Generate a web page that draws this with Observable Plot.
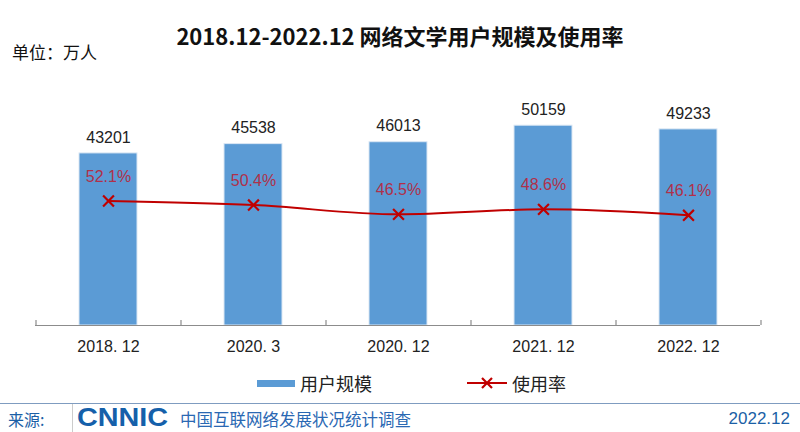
<!DOCTYPE html>
<html>
<head>
<meta charset="utf-8">
<script src="https://cdn.jsdelivr.net/npm/d3@7"></script>
<script src="https://cdn.jsdelivr.net/npm/@observablehq/plot@0.6"></script>
<style>
  html, body { margin: 0; padding: 0; background: #fff; }
  #wrap { position: relative; width: 800px; height: 432px; overflow: hidden; font-family: "Noto Sans CJK SC", "Noto Sans", sans-serif; }
  #title { position: absolute; left: 0; width: 800px; top: 20px; text-align: center; font-size: 22px; font-weight: bold; color: #111; line-height: 30px; }
  #unit { position: absolute; left: 12px; top: 40px; font-size: 17px; color: #111; line-height: 24px; }
  #chart { position: absolute; left: 0; top: 0; }
  #legend { position: absolute; left: 0; top: 370px; width: 800px; height: 26px; font-size: 18px; color: #222; }
  .li { position: absolute; top: 0; line-height: 26px; display: flex; align-items: center; }
  #footer { position: absolute; left: 0; top: 403px; width: 800px; height: 29px; border-top: 1.5px solid #7f9cc0; color: #1b5fa6; }
  #src { position: absolute; left: 8px; top: 2px; font-size: 16px; line-height: 26px; }
  #logo { position: absolute; left: 72px; top: 0; height: 28px; border-left: 1px solid #ccc; padding-left: 4px; }
  #logo span { display: inline-block; font-family: "Liberation Sans", Arial, sans-serif; font-weight: bold; font-size: 25px; line-height: 27px; color: #1560aa; transform: scaleX(1.15); transform-origin: left center; }
  #org { position: absolute; left: 180px; top: 2px; font-size: 16.5px; line-height: 26px; color: #2a68b3; }
  #date { position: absolute; right: 10px; top: 2px; font-size: 17px; line-height: 26px; font-family: "Liberation Sans", Arial, sans-serif; }
</style>
</head>
<body>
<div id="wrap">
  <div id="chart"></div>
  <div id="title">2018.12-2022.12 网络文学用户规模及使用率</div>
  <div id="unit">单位：万人</div>
  <div id="legend"></div>
  <div id="footer">
    <div id="src">来源:</div>
    <div id="logo"><span>CNNIC</span></div>
    <div id="org">中国互联网络发展状况统计调查</div>
    <div id="date">2022.12</div>
  </div>
</div>
<script>
const categories = ["2018. 12", "2020. 3", "2020. 12", "2021. 12", "2022. 12"];
const users = [43201, 45538, 46013, 50159, 49233];
const rates = [52.1, 50.4, 46.5, 48.6, 46.1];
const seriesNames = ["用户规模", "使用率"];

const barColor = "#5B9BD5";
const lineColor = "#C00000";
const rateLabelColor = "#B0304A";

const data = categories.map((c, i) => ({ cat: c, users: users[i], rate: rates[i], rateY: rates[i] * 600 }));

const W = 800, H = 360;
const mL = 35, mR = 40, mT = 86, mB = 35;
const yMax = 60000;
const step = (W - mL - mR) / categories.length;
const tickLen = 5 * yMax / (H - mT - mB); // 5px expressed in y units

const plot = Plot.plot({
  width: W,
  height: H,
  marginTop: mT,
  marginBottom: mB,
  marginLeft: mL,
  marginRight: mR,
  style: { fontFamily: "'Liberation Sans', Arial, sans-serif", background: "transparent", overflow: "visible" },
  x: { domain: categories, paddingInner: 0.6, paddingOuter: 0.3, label: null },
  y: { domain: [0, yMax], axis: null },
  marks: [
    Plot.barY(data, { x: "cat", y: "users", fill: barColor, stroke: "#dbe7f4", strokeWidth: 1 }),
    Plot.ruleY([0], { stroke: "#8c8c8c", strokeWidth: 1.2 }),
    Plot.ruleX(data, { x: "cat", y1: 0, y2: tickLen, dx: -step / 2, stroke: "#8c8c8c", strokeWidth: 1.2 }),
    Plot.ruleX(data.slice(-1), { x: "cat", y1: 0, y2: tickLen, dx: step / 2, stroke: "#8c8c8c", strokeWidth: 1.2 }),
    Plot.axisX({ tickSize: 0, tickPadding: 15, fontSize: 16, fill: "#222" }),
    Plot.line(data, { x: "cat", y: "rateY", stroke: lineColor, strokeWidth: 2, curve: "monotone-x" }),
    Plot.dot(data, { x: "cat", y: "rateY", symbol: "times", r: 5, stroke: lineColor, strokeWidth: 2.2 }),
    Plot.text(data, { x: "cat", y: "users", text: d => String(d.users), dy: -16, fontSize: 16, fill: "#222" }),
    Plot.text(data, { x: "cat", y: "rateY", text: d => d.rate.toFixed(1) + "%", dy: -24, fontSize: 16, fill: rateLabelColor })
  ]
});
document.getElementById("chart").appendChild(plot);

// Legend built from series names
const legend = d3.select("#legend");
const l1 = legend.append("div").attr("class", "li").style("left", "257px");
l1.append("span").style("display", "inline-block").style("width", "38px").style("height", "7px").style("background", barColor).style("margin-right", "5px");
l1.append("span").text(seriesNames[0]);
const l2 = legend.append("div").attr("class", "li").style("left", "467px");
const sv = l2.append("svg").attr("width", 40).attr("height", 14).style("margin-right", "5px");
sv.append("line").attr("x1", 0).attr("x2", 40).attr("y1", 7).attr("y2", 7).attr("stroke", lineColor).attr("stroke-width", 2);
sv.append("path").attr("d", "M15,2L25,12M25,2L15,12").attr("stroke", lineColor).attr("stroke-width", 2.2);
l2.append("span").text(seriesNames[1]);
</script>
</body>
</html>
